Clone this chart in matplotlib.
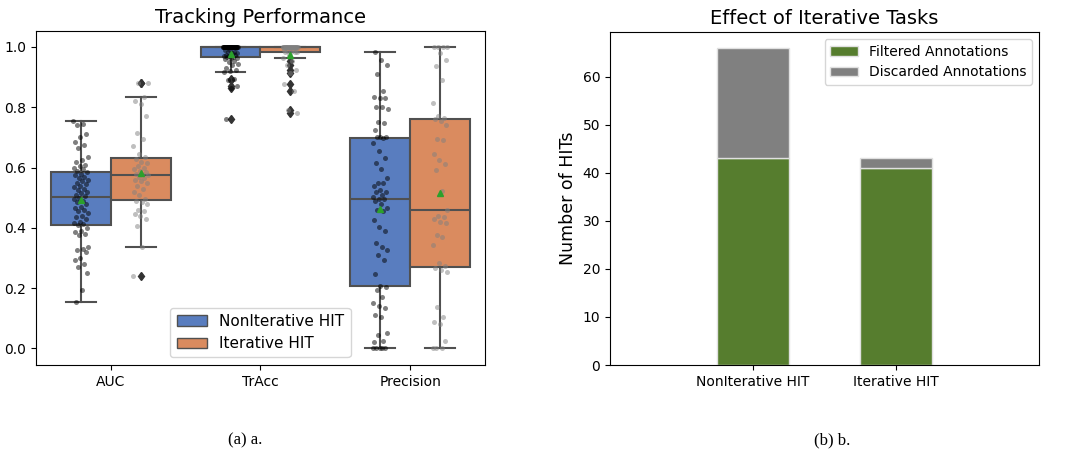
import numpy as np
import matplotlib.pyplot as plt
from matplotlib.patches import Patch

metrics = ['AUC', 'TrAcc', 'Precision']
hit_types = ['NonIterative HIT', 'Iterative HIT']

# per-HIT scores
auc_noniter = [0.755, 0.745, 0.74, 0.71, 0.70, 0.685, 0.675, 0.665, 0.635, 0.625, 0.62, 0.61,
               0.605, 0.60, 0.595, 0.59, 0.585, 0.58, 0.575, 0.57, 0.565, 0.56, 0.555, 0.55,
               0.545, 0.54, 0.535, 0.53, 0.525, 0.52, 0.515, 0.51, 0.507, 0.50, 0.495, 0.49,
               0.485, 0.48, 0.47, 0.465, 0.46, 0.455, 0.45, 0.44, 0.435, 0.43, 0.42, 0.415,
               0.412, 0.41, 0.40, 0.39, 0.385, 0.38, 0.375, 0.335, 0.33, 0.325, 0.32, 0.30,
               0.295, 0.28, 0.27, 0.25, 0.195, 0.155]
auc_iter = [0.24, 0.335, 0.405, 0.43, 0.44, 0.445, 0.455, 0.46, 0.48, 0.485, 0.49, 0.495,
            0.51, 0.52, 0.53, 0.54, 0.55, 0.555, 0.56, 0.565, 0.57, 0.576, 0.578, 0.58,
            0.585, 0.59, 0.595, 0.60, 0.605, 0.615, 0.62, 0.63, 0.636, 0.645, 0.67, 0.695,
            0.715, 0.77, 0.81, 0.82, 0.835, 0.88, 0.88]
tracc_noniter = [1.0] * 37 + [0.995, 0.99, 0.99, 0.985, 0.985, 0.98, 0.98, 0.975, 0.975,
                              0.97, 0.97, 0.966, 0.966, 0.965, 0.962, 0.96, 0.955, 0.95,
                              0.945, 0.94, 0.93, 0.925, 0.92, 0.916, 0.895, 0.89, 0.87,
                              0.865, 0.76]
tracc_iter = [1.0] * 24 + [0.998, 0.995, 0.99, 0.99, 0.988, 0.985, 0.983, 0.983, 0.983,
                           0.975, 0.963, 0.953, 0.94, 0.925, 0.915, 0.878, 0.855, 0.79, 0.78]
prec_noniter = [0.0, 0.0, 0.0, 0.0, 0.003, 0.02, 0.025, 0.045, 0.05, 0.105, 0.11, 0.135,
                0.14, 0.15, 0.17, 0.195, 0.205, 0.207, 0.246, 0.293, 0.309, 0.328, 0.337,
                0.35, 0.39, 0.403, 0.425, 0.455, 0.458, 0.465, 0.48, 0.49, 0.495, 0.497,
                0.503, 0.51, 0.518, 0.52, 0.525, 0.538, 0.548, 0.55, 0.567, 0.595, 0.615,
                0.633, 0.655, 0.68, 0.698, 0.70, 0.70, 0.702, 0.725, 0.748, 0.75, 0.795,
                0.80, 0.80, 0.83, 0.83, 0.835, 0.855, 0.91, 0.94, 0.958, 0.982]
prec_iter = [0.0, 0.0, 0.0, 0.025, 0.08, 0.088, 0.105, 0.136, 0.255, 0.26, 0.268, 0.272,
             0.285, 0.342, 0.37, 0.375, 0.415, 0.42, 0.428, 0.435, 0.44, 0.458, 0.522,
             0.593, 0.611, 0.624, 0.646, 0.69, 0.695, 0.74, 0.755, 0.76, 0.764, 0.77,
             0.814, 0.892, 0.936, 0.958, 0.98, 1.0, 1.0, 1.0, 1.0]

# HIT counts
filtered = [43, 41]
discarded = [23, 2]

scores = {'AUC': (auc_noniter, auc_iter),
          'TrAcc': (tracc_noniter, tracc_iter),
          'Precision': (prec_noniter, prec_iter)}

box_colors = ['#597dbf', '#da8b5f']
dot_colors = ['black', '#808080']
line_c = '#505050'

fig = plt.figure(figsize=(10.67, 4.54), dpi=100)
ax1 = fig.add_axes([0.0337, 0.196, 0.4208, 0.7357])
ax2 = fig.add_axes([0.5717, 0.196, 0.4021, 0.7335])

# Tracking performance: box + strip plot
for i, m in enumerate(metrics):
    for j in range(2):
        vals = np.array(scores[m][j])
        pos = i + (-0.2 if j == 0 else 0.2)
        ax1.boxplot(vals, positions=[pos], widths=0.4, patch_artist=True, showmeans=True,
                    manage_ticks=False,
                    boxprops=dict(facecolor=box_colors[j], edgecolor=line_c, linewidth=1.5),
                    medianprops=dict(color=line_c, linewidth=1.5),
                    whiskerprops=dict(color=line_c, linewidth=1.5),
                    capprops=dict(color=line_c, linewidth=1.5),
                    flierprops=dict(marker='d', markerfacecolor='#333333',
                                    markeredgecolor='#333333', markersize=4.5),
                    meanprops=dict(marker='^', markerfacecolor='#2ca02c',
                                   markeredgecolor='#2ca02c', markersize=5, zorder=5))
        jit = ((np.arange(len(vals)) * 0.618034) % 1 - 0.5) * 0.1
        ax1.scatter(pos + jit, vals, s=13, color=dot_colors[j], alpha=0.5, lw=0, zorder=4)

ax1.set_xlim(-0.5, 2.5)
ax1.set_ylim(-0.055, 1.053)
ax1.set_xticks(range(len(metrics)))
ax1.set_xticklabels(metrics)
ax1.tick_params(labelsize=10)
ax1.set_title('Tracking Performance', fontsize=14)
handles = [Patch(facecolor=c, edgecolor=line_c, label=h) for c, h in zip(box_colors, hit_types)]
ax1.legend(handles=handles, loc='lower center', fontsize=11)

# Effect of iterative tasks: stacked bars
x = np.arange(len(hit_types))
ax2.bar(x, filtered, 0.5, color='#567d2e', edgecolor='#e0e0e0', linewidth=1,
        label='Filtered Annotations')
ax2.bar(x, discarded, 0.5, bottom=filtered, color='#808080', edgecolor='#e0e0e0', linewidth=1,
        label='Discarded Annotations')
ax2.set_xlim(-1, 2)
ax2.set_ylim(0, 69.3)
ax2.set_xticks(x)
ax2.set_xticklabels(hit_types)
ax2.tick_params(labelsize=10)
ax2.set_ylabel('Number of HITs', fontsize=12.5)
ax2.set_title('Effect of Iterative Tasks', fontsize=14)
ax2.legend(loc='upper right', fontsize=10)

fig.text(245 / 1067, 1 - 440 / 454, '(a) a.', ha='center', va='center',
         family='Liberation Serif', fontsize=12)
fig.text(832 / 1067, 1 - 440 / 454, '(b) b.', ha='center', va='center',
         family='Liberation Serif', fontsize=12)

fig.savefig('out.png', dpi=100)
